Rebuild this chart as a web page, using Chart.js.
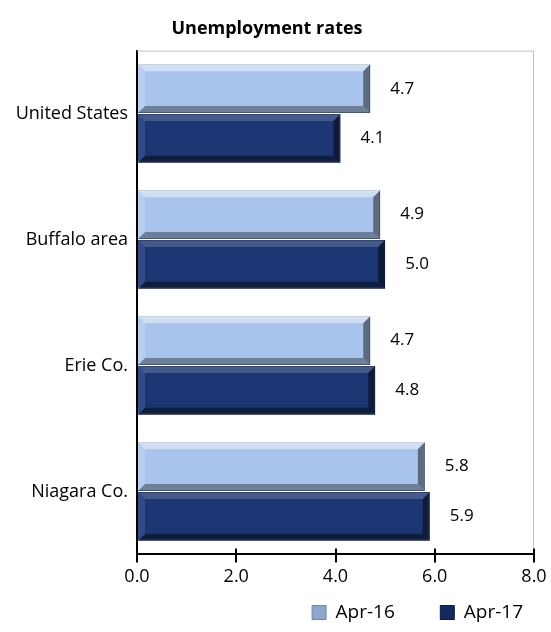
<!DOCTYPE html>
<html>
<head>
<meta charset="utf-8">
<script src="https://cdn.jsdelivr.net/npm/chart.js@4"></script>
<style>
  html, body { margin: 0; padding: 0; background: #fff; }
  #wrap { width: 551px; height: 632px; }
</style>
</head>
<body>
<div id="wrap"><canvas id="chart" width="551" height="632"></canvas></div>
<script>
const categories = ["United States", "Buffalo area", "Erie Co.", "Niagara Co."];
const seriesNames = ["Apr-16", "Apr-17"];
const apr16 = [4.7, 4.9, 4.7, 5.8];
const apr17 = [4.1, 5.0, 4.8, 5.9];
const xTicks = [0, 2, 4, 6, 8];

const FONT = "'Open Sans', 'Liberation Sans', sans-serif";

// bevel facets for each bar, like the office "bevel" look
const facets = [
    { top: "rgba(255,255,255,0.45)", bottom: "rgba(0,0,0,0.35)", right: "rgba(0,0,0,0.45)", left: "rgba(255,255,255,0.2)" },
    { top: "rgba(255,255,255,0.18)", bottom: "rgba(0,0,0,0.45)", right: "rgba(0,0,0,0.5)", left: "rgba(255,255,255,0.1)" }
];

function poly(c, pts, color) {
    c.fillStyle = color;
    c.beginPath();
    c.moveTo(pts[0][0], pts[0][1]);
    for (let k = 1; k < pts.length; k++) c.lineTo(pts[k][0], pts[k][1]);
    c.closePath();
    c.fill();
}

const extras = {
    id: "extras",
    afterDatasetsDraw(chart) {
        const c = chart.ctx;
        c.save();
        // bevels
        chart.data.datasets.forEach((ds, i) => {
            const f = facets[i];
            chart.getDatasetMeta(i).data.forEach(bar => {
                const x0 = bar.base, x1 = bar.x;
                const y0 = bar.y - bar.height / 2, y1 = bar.y + bar.height / 2;
                const b = 7;
                poly(c, [[x0, y0], [x1, y0], [x1 - b, y0 + b], [x0 + b, y0 + b]], f.top);
                poly(c, [[x0, y1], [x1, y1], [x1 - b, y1 - b], [x0 + b, y1 - b]], f.bottom);
                poly(c, [[x1, y0], [x1, y1], [x1 - b, y1 - b], [x1 - b, y0 + b]], f.right);
                poly(c, [[x0, y0], [x0, y1], [x0 + b, y1 - b], [x0 + b, y0 + b]], f.left);
            });
        });
        // value labels
        c.font = "17px " + FONT;
        c.fillStyle = "#000";
        c.textBaseline = "middle";
        chart.data.datasets.forEach((ds, i) => {
            chart.getDatasetMeta(i).data.forEach((bar, j) => {
                c.fillText(ds.data[j].toFixed(1), bar.x + 20, bar.y);
            });
        });
        // light frame top/right
        const a = chart.chartArea;
        c.strokeStyle = "#bfbfbf";
        c.lineWidth = 1;
        c.beginPath();
        c.moveTo(a.left, a.top + 0.5);
        c.lineTo(a.right - 0.5, a.top + 0.5);
        c.lineTo(a.right - 0.5, a.bottom);
        c.stroke();
        // x ticks cross the axis line
        const xs = chart.scales.x;
        c.strokeStyle = "#000";
        c.lineWidth = 2;
        c.beginPath();
        xTicks.forEach(v => {
            const px = Math.round(xs.getPixelForValue(v));
            c.moveTo(px, a.bottom - 6);
            c.lineTo(px, a.bottom);
        });
        c.stroke();
        c.restore();
    }
};

new Chart(document.getElementById("chart").getContext("2d"), {
    type: "bar",
    data: {
        labels: categories,
        datasets: [
            {
                label: seriesNames[0],
                data: apr16,
                backgroundColor: "#a9c4ec",
                borderColor: "#6f86ab",
                borderWidth: 1,
                categoryPercentage: 0.79,
                barPercentage: 0.98
            },
            {
                label: seriesNames[1],
                data: apr17,
                backgroundColor: "#1c3674",
                borderColor: "#0a1a45",
                borderWidth: 1,
                categoryPercentage: 0.79,
                barPercentage: 0.98
            }
        ]
    },
    options: {
        indexAxis: "y",
        responsive: false,
        animation: false,
        layout: { padding: { left: 0, right: 17, top: 0, bottom: 0 } },
        plugins: {
            title: {
                display: true,
                text: "Unemployment rates",
                color: "#000",
                font: { family: FONT, size: 18, weight: "bold" },
                padding: { top: 18, bottom: 11 }
            },
            legend: {
                position: "bottom",
                align: "end",
                labels: {
                    color: "#000",
                    font: { family: FONT, size: 19 },
                    boxWidth: 14,
                    boxHeight: 14,
                    padding: 6,
                    generateLabels(chart) {
                        return chart.data.datasets.map((ds, i) => ({
                            text: ds.label + (i === 0 ? "        " : " "),
                            fillStyle: i === 0 ? "#8ea6cc" : "#132a5e",
                            strokeStyle: i === 0 ? "#6f86ab" : "#0a1a45",
                            lineWidth: 1,
                            datasetIndex: i
                        }));
                    }
                }
            },
            tooltip: { enabled: false }
        },
        scales: {
            x: {
                min: 0,
                max: 8,
                afterBuildTicks(axis) {
                    axis.ticks = xTicks.map(v => ({ value: v }));
                },
                afterFit(axis) {
                    axis.height += 5;
                },
                ticks: {
                    color: "#000",
                    font: { family: FONT, size: 18 },
                    padding: 4,
                    callback: v => Number(v).toFixed(1)
                },
                grid: {
                    drawOnChartArea: false,
                    drawTicks: true,
                    tickLength: 8,
                    lineWidth: 2,
                    color: "#000"
                },
                border: { color: "#000", width: 2 }
            },
            y: {
                afterFit(axis) {
                    axis.width = 137;
                },
                ticks: {
                    color: "#000",
                    font: { family: FONT, size: 18 },
                    padding: 1
                },
                grid: { display: false },
                border: { color: "#000", width: 2 }
            }
        }
    },
    plugins: [extras]
});
</script>
</body>
</html>
